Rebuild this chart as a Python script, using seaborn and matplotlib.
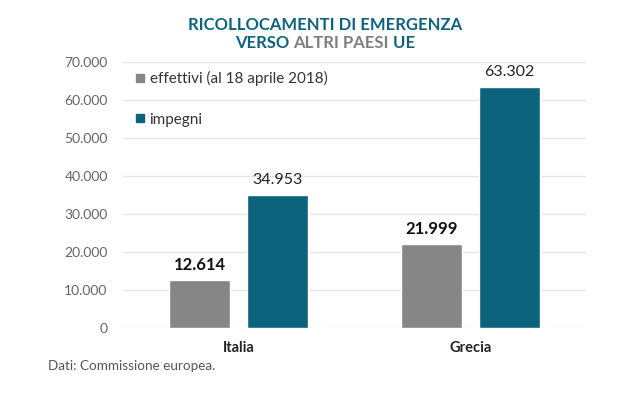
import pandas as pd
import matplotlib
matplotlib.use('Agg')
import matplotlib.pyplot as plt
import seaborn as sns
from matplotlib.lines import Line2D

paesi = ['Italia', 'Grecia']
effettivi = [12614, 21999]
impegni = [34953, 63302]
serie = ['effettivi (al 18 aprile 2018)', 'impegni']
y_ticks = [0, 10000, 20000, 30000, 40000, 50000, 60000, 70000]

GRAY = '#868686'
TEAL = '#0d637c'
W, H = 642, 398


def fmt_it(v):
    return f"{v:,.0f}".replace(',', '.')


df = pd.DataFrame({
    'paese': paesi * 2,
    'tipo': [serie[0]] * len(paesi) + [serie[1]] * len(paesi),
    'valore': effettivi + impegni,
})

sns.set_style('white')
plt.rcParams['font.family'] = ['Lato', 'DejaVu Sans']

fig = plt.figure(figsize=(W / 100, H / 100), dpi=100)
ax = fig.add_axes([123 / W, 1 - 328 / H, (586 - 123) / W, (328 - 62) / H])

sns.barplot(data=df, x='paese', y='valore', hue='tipo', hue_order=serie,
            palette=[GRAY, TEAL], width=0.676, gap=0.22, saturation=1,
            legend=False, ax=ax, errorbar=None)

ax.set_xlim(-0.5, 1.5)
ax.set_ylim(0, 70000)
ax.set_yticks(y_ticks)
ax.set_yticklabels([fmt_it(v) for v in y_ticks])
ax.set_xlabel('')
ax.set_ylabel('')
ax.grid(axis='y', color='#e6e6e6', lw=1)
ax.set_axisbelow(True)
sns.despine(ax=ax, left=True, bottom=True)
ax.tick_params(axis='y', length=0, pad=11, labelsize=10, labelcolor='#666666')
ax.tick_params(axis='x', length=0, pad=9, labelsize=10.5, labelcolor='#222222')
for lbl in ax.get_xticklabels():
    lbl.set_fontweight('bold')

# etichette sulle barre
ax.bar_label(ax.containers[0], labels=[fmt_it(v) for v in effettivi],
             padding=5, fontsize=12, fontweight='bold', color='#111111')
ax.bar_label(ax.containers[1], labels=[fmt_it(v) for v in impegni],
             padding=6, fontsize=11.5, color='#222222')

# legenda con quadratini
handles = [Line2D([], [], marker='s', ls='', color=GRAY, markersize=6),
           Line2D([], [], marker='s', ls='', color=TEAL, markersize=6)]
fig.legend(handles, serie, loc='upper left', bbox_to_anchor=(135 / W, 1 - 71 / H),
           frameon=False, borderpad=0, borderaxespad=0, handlelength=0.6,
           handletextpad=0.35, labelspacing=1.75, fontsize=11,
           labelcolor='#333333')

# titolo su due righe, con "ALTRI PAESI" in grigio
title_kw = dict(fontsize=12, fontweight='bold', va='center')
fig.text(325 / W, 1 - 25 / H, 'RICOLLOCAMENTI DI EMERGENZA', ha='center',
         color=TEAL, **title_kw)
parts = [('VERSO ', TEAL), ('ALTRI PAESI', '#7f7f7f'), (' UE', TEAL)]
texts = [fig.text(0, 1 - 43 / H, s, ha='left', color=c, **title_kw) for s, c in parts]
fig.canvas.draw()
r = fig.canvas.get_renderer()
widths = [t.get_window_extent(r).width for t in texts]
x0 = 325 - sum(widths) / 2
for t, w in zip(texts, widths):
    t.set_x(x0 / W)
    x0 += w

fig.text(48 / W, 1 - 366 / H, 'Dati: Commissione europea.', ha='left',
         va='center', fontsize=9.7, color='#555555')

fig.savefig('out.png', dpi=100)
